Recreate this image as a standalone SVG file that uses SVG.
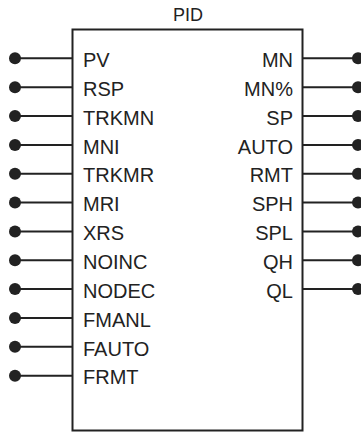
<svg xmlns="http://www.w3.org/2000/svg" width="361" height="432" viewBox="0 0 361 432">
<style>
.lbl{font-family:"Liberation Sans",Arial,sans-serif;font-size:20px;fill:#222}
.r{text-anchor:end}
.pin{stroke:#222;stroke-width:2;fill:none}
.dot{fill:#222}
</style>
<rect width="361" height="432" fill="#fff"/>
<g id="connectors">
<g class="pin">
<path d="M15 58.3H72M15 87.2H72M15 116H72M15 144.9H72M15 173.7H72M15 202.6H72M15 231.4H72M15 260.3H72M15 289.1H72M15 318H72M15 346.8H72M15 375.7H72"/>
<path d="M303 58.3H358M303 87.2H358M303 116H358M303 144.9H358M303 173.7H358M303 202.6H358M303 231.4H358M303 260.3H358M303 289.1H358"/>
</g>
<g class="dot">
<circle cx="15" cy="58.3" r="6"/><circle cx="15" cy="87.2" r="6"/><circle cx="15" cy="116" r="6"/><circle cx="15" cy="144.9" r="6"/><circle cx="15" cy="173.7" r="6"/><circle cx="15" cy="202.6" r="6"/><circle cx="15" cy="231.4" r="6"/><circle cx="15" cy="260.3" r="6"/><circle cx="15" cy="289.1" r="6"/><circle cx="15" cy="318" r="6"/><circle cx="15" cy="346.8" r="6"/><circle cx="15" cy="375.7" r="6"/>
<circle cx="358" cy="58.3" r="6"/><circle cx="358" cy="87.2" r="6"/><circle cx="358" cy="116" r="6"/><circle cx="358" cy="144.9" r="6"/><circle cx="358" cy="173.7" r="6"/><circle cx="358" cy="202.6" r="6"/><circle cx="358" cy="231.4" r="6"/><circle cx="358" cy="260.3" r="6"/><circle cx="358" cy="289.1" r="6"/>
</g>
</g>
<g id="pid">
<rect x="72.5" y="29.5" width="230" height="401" fill="none" stroke="#222" stroke-width="2"/>
<text x="188" y="20.7" text-anchor="middle" class="lbl" style="font-size:18px">PID</text>
<g class="lbl">
<text x="83" y="67">PV</text>
<text x="83" y="95.9">RSP</text>
<text x="83" y="124.7">TRKMN</text>
<text x="83" y="153.6">MNI</text>
<text x="83" y="182.4">TRKMR</text>
<text x="83" y="211.3">MRI</text>
<text x="83" y="240.1">XRS</text>
<text x="83" y="269">NOINC</text>
<text x="83" y="297.8">NODEC</text>
<text x="83" y="326.7">FMANL</text>
<text x="83" y="355.5">FAUTO</text>
<text x="83" y="384.4">FRMT</text>
</g>
<g class="lbl r">
<text x="293" y="67">MN</text>
<text x="293" y="95.9">MN%</text>
<text x="293" y="124.7">SP</text>
<text x="293" y="153.6">AUTO</text>
<text x="293" y="182.4">RMT</text>
<text x="293" y="211.3">SPH</text>
<text x="293" y="240.1">SPL</text>
<text x="293" y="269">QH</text>
<text x="293" y="297.8">QL</text>
</g>
</g>
</svg>
